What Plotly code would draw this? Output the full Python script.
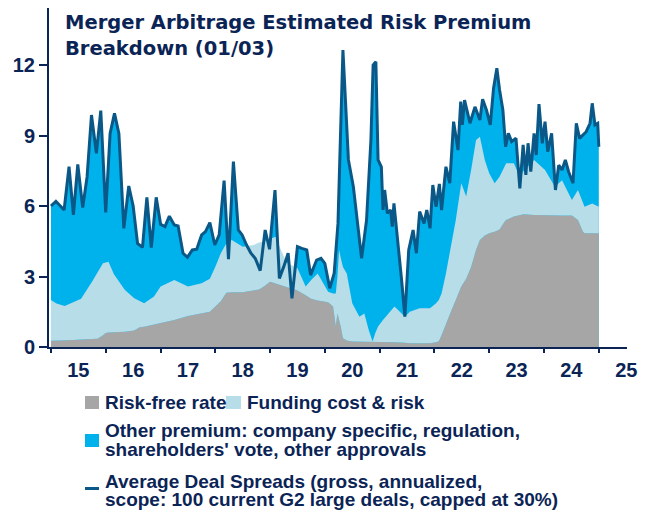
import numpy as np
import pandas as pd
import plotly.graph_objects as go

# ---------------- data (decimal years) ----------------
spread_t = [2015.00, 2015.09, 2015.24, 2015.33, 2015.41, 2015.49, 2015.58, 2015.66, 2015.74, 2015.83,
            2015.91, 2016.00, 2016.08, 2016.16, 2016.24, 2016.33, 2016.42, 2016.50, 2016.58, 2016.67,
            2016.75, 2016.83, 2016.92, 2017.00, 2017.08, 2017.16, 2017.25, 2017.32, 2017.41, 2017.49,
            2017.58, 2017.66, 2017.75, 2017.82, 2017.90, 2017.99, 2018.07, 2018.16, 2018.24, 2018.33,
            2018.42, 2018.49, 2018.57, 2018.65, 2018.73, 2018.82, 2018.91, 2018.99, 2019.09, 2019.17,
            2019.25, 2019.33, 2019.40, 2019.50, 2019.58, 2019.67, 2019.74, 2019.85, 2019.93, 2020.00,
            2020.09, 2020.17, 2020.24, 2020.33, 2020.43, 2020.52, 2020.67, 2020.76, 2020.84, 2020.88,
            2020.93, 2020.97, 2021.03, 2021.06, 2021.09, 2021.14, 2021.20, 2021.23, 2021.26, 2021.34,
            2021.40, 2021.46, 2021.53, 2021.61, 2021.67, 2021.73, 2021.81, 2021.86, 2021.92, 2021.97,
            2022.03, 2022.09, 2022.13, 2022.21, 2022.28, 2022.35, 2022.43, 2022.48, 2022.51, 2022.55,
            2022.65, 2022.74, 2022.83, 2022.88, 2022.95, 2023.02, 2023.08, 2023.14, 2023.19, 2023.25,
            2023.30, 2023.35, 2023.41, 2023.49, 2023.56, 2023.62, 2023.67, 2023.71, 2023.76, 2023.82,
            2023.86, 2023.91, 2023.97, 2024.02, 2024.07, 2024.14, 2024.21, 2024.27, 2024.33, 2024.39,
            2024.45, 2024.53, 2024.59, 2024.65, 2024.71, 2024.77, 2024.84, 2024.88, 2024.93, 2024.98,
            2025.00]
spread_v = [6.00, 6.20, 5.83, 7.67, 5.62, 7.77, 5.93, 7.25, 9.87, 8.24,
            10.06, 5.73, 9.09, 9.94, 9.09, 5.05, 6.85, 6.00, 4.41, 4.24,
            6.37, 4.23, 6.37, 5.22, 5.12, 5.57, 5.19, 5.15, 3.99, 3.82,
            4.13, 4.16, 4.77, 4.91, 5.29, 4.34, 4.77, 7.08, 3.74, 7.89,
            4.98, 4.77, 4.34, 3.99, 3.77, 3.25, 4.98, 4.16, 6.68, 2.92,
            3.42, 3.99, 2.07, 4.27, 4.20, 4.13, 3.06, 3.70, 3.77, 3.56,
            2.50, 3.13, 5.26, 12.64, 7.96, 6.82, 3.77, 5.40, 8.81, 12.00,
            12.14, 7.96, 7.67, 5.83, 6.68, 5.69, 5.83, 5.12, 6.11, 4.34,
            2.85, 1.29, 4.13, 4.98, 3.99, 5.76, 5.26, 5.83, 5.05, 6.89,
            5.97, 6.94, 5.83, 7.67, 6.97, 9.59, 8.38, 10.44, 9.45, 10.51,
            9.52, 10.22, 9.66, 10.54, 10.09, 9.45, 11.01, 11.86, 10.94, 10.09,
            8.52, 9.09, 8.74, 8.88, 6.75, 8.60, 7.32, 8.67, 7.46, 9.09,
            8.17, 10.34, 8.67, 9.59, 8.31, 9.09, 6.68, 7.74, 7.53, 7.96,
            7.46, 6.97, 9.52, 8.88, 9.02, 9.16, 9.52, 10.37, 9.45, 9.52,
            8.52]

area_t = [2015.00, 2015.10, 2015.25, 2015.40, 2015.55, 2015.75, 2015.85, 2015.95, 2016.00, 2016.05,
          2016.15, 2016.35, 2016.52, 2016.62, 2016.70, 2016.88, 2017.00, 2017.25, 2017.50, 2017.75,
          2017.90, 2018.00, 2018.10, 2018.20, 2018.30, 2018.50, 2018.70, 2018.80, 2018.90, 2019.00,
          2019.10, 2019.20, 2019.30, 2019.50, 2019.65, 2019.75, 2019.87, 2020.00, 2020.06, 2020.15,
          2020.20, 2020.23, 2020.26, 2020.29, 2020.33, 2020.40, 2020.50, 2020.63, 2020.72, 2020.80,
          2020.87, 2020.92, 2020.97, 2021.06, 2021.27, 2021.46, 2021.55, 2021.73, 2021.92, 2022.03,
          2022.08, 2022.13, 2022.21, 2022.30, 2022.39, 2022.49, 2022.58, 2022.67, 2022.76, 2022.83,
          2022.92, 2023.00, 2023.10, 2023.19, 2023.28, 2023.31, 2023.45, 2023.56, 2023.63, 2023.82,
          2024.02, 2024.20, 2024.33, 2024.51, 2024.62, 2024.71, 2024.74, 2024.88, 2025.00]
risk_free = [0.27, 0.27, 0.28, 0.30, 0.32, 0.32, 0.35, 0.50, 0.60, 0.62,
             0.62, 0.65, 0.70, 0.84, 0.86, 0.95, 1.00, 1.15, 1.32, 1.42,
             1.50, 1.72, 1.95, 2.31, 2.33, 2.33, 2.40, 2.45, 2.60, 2.78,
             2.70, 2.62, 2.55, 2.40, 2.20, 2.05, 1.98, 1.93, 1.90, 1.72,
             0.87, 1.43, 1.20, 0.87, 0.37, 0.28, 0.23, 0.23, 0.23, 0.23,
             0.23, 0.23, 0.23, 0.22, 0.20, 0.18, 0.16, 0.16, 0.16, 0.20,
             0.25, 0.50, 1.00, 1.50, 2.00, 2.57, 2.90, 3.40, 4.13, 4.55,
             4.75, 4.84, 4.90, 5.00, 5.33, 5.40, 5.55, 5.62, 5.65, 5.62,
             5.60, 5.60, 5.60, 5.60, 5.40, 4.91, 4.84, 4.84, 4.84]
funding = [1.73, 1.58, 1.46, 1.60, 1.73, 2.46, 2.85, 3.06, 3.00, 3.01,
           2.48, 1.78, 1.37, 1.11, 1.00, 1.20, 1.57, 1.70, 1.25, 1.29,
           1.40, 1.70, 2.04, 2.09, 2.22, 1.94, 1.94, 2.00, 1.90, 1.82,
           1.99, 1.51, 1.05, 0.95, 0.37, 0.80, 1.15, 0.67, 0.45, 0.56,
           1.41, 1.57, 2.93, 2.93, 3.03, 2.85, 1.63, 1.06, 1.20, 0.49,
           0.00, 0.37, 0.64, 0.93, 1.52, 1.11, 1.34, 1.49, 1.49, 1.66,
           1.75, 1.78, 2.13, 2.77, 3.40, 4.40, 3.50, 4.13, 4.68, 4.40,
           3.21, 2.55, 2.07, 2.25, 2.34, 2.42, 2.27, 1.63, 1.85, 2.34,
           1.93, 1.22, 1.50, 0.66, 1.28, 1.29, 1.13, 1.27, 1.13]

y_ticks = [0, 3, 6, 9, 12]

title_lines = ["Merger Arbitrage Estimated Risk Premium", "Breakdown (01/03)"]
legend_rf = "Risk-free rate"
legend_fund = "Funding cost &amp; risk"
legend_other = ["Other premium: company specific, regulation,", "shareholders' vote, other approvals"]
legend_spread = ["Average Deal Spreads (gross, annualized,", "scope: 100 current G2 large deals, capped at 30%)"]

# ---------------- styles ----------------
NAVY = "#0b2456"
LINE = "#0a5888"
CYAN = "#00b2ec"
LBLUE = "#b7dde8"
GREY = "#a6a6a6"
FONT = "Liberation Sans"


def to_dates(years):
    out = []
    for y in years:
        yr = int(np.floor(y))
        start = pd.Timestamp(year=yr, month=1, day=1)
        end = pd.Timestamp(year=yr + 1, month=1, day=1)
        out.append(start + (end - start) * (y - yr))
    return out


sx = to_dates(spread_t)
ax = to_dates(area_t)

fig = go.Figure()
fig.add_trace(go.Scatter(x=sx, y=spread_v, mode="lines", fill="tozeroy",
                         fillcolor=CYAN, line=dict(width=0, color=CYAN), hoverinfo="skip"))
fig.add_trace(go.Scatter(x=ax, y=risk_free, mode="lines", stackgroup="a",
                         fillcolor=GREY, line=dict(width=0, color=GREY), hoverinfo="skip"))
fig.add_trace(go.Scatter(x=ax, y=funding, mode="lines", stackgroup="a",
                         fillcolor=LBLUE, line=dict(width=0, color=LBLUE), hoverinfo="skip"))
fig.add_trace(go.Scatter(x=sx, y=spread_v, mode="lines",
                         line=dict(width=3, color=LINE), hoverinfo="skip"))

# page offset (body margin) and figure size
OFF = 8
W, H = 640, 504
# plot area in page pixels
L, R, T, B = 49 - OFF, 627 - OFF, 0, 347 - OFF
Y_TOP = (347 - OFF) / 23.5


def px(xp):
    return (xp - OFF - L) / (R - L)


def py(yp):
    return (B - (yp - OFF)) / (B - T)


x_range = to_dates([2014.964, 2025.515])

fig.update_layout(
    width=W, height=H,
    margin=dict(l=L, r=W - R, t=T, b=H - B),
    paper_bgcolor="white", plot_bgcolor="white",
    showlegend=False,
    xaxis=dict(type="date", range=x_range, dtick="M12", tick0="2015-01-01",
               ticklabelmode="period", tickformat="%y",
               ticks="outside", ticklen=4, tickwidth=1.5, tickcolor=NAVY,
               showline=True, linecolor=NAVY, linewidth=2,
               showgrid=False, zeroline=False, ticklabelstandoff=0,
               tickfont=dict(family=FONT, size=20, color=NAVY, weight="bold")),
    yaxis=dict(range=[0, Y_TOP], tickvals=y_ticks, ticks="outside", ticklen=8,
               tickwidth=1.5, tickcolor=NAVY,
               showline=True, linecolor=NAVY, linewidth=2,
               showgrid=False, zeroline=False,
               tickfont=dict(family=FONT, size=20, color=NAVY, weight="bold")),
)

anns = []
tfont = dict(family="DejaVu Sans", size=19.5, color=NAVY, weight="bold")
anns.append(dict(text="<b>" + title_lines[0] + "</b>", x=px(63), y=py(22), xref="paper", yref="paper",
                 xanchor="left", yanchor="middle", showarrow=False, font=tfont))
anns.append(dict(text="<b>" + title_lines[1] + "</b>", x=px(63), y=py(48.5), xref="paper", yref="paper",
                 xanchor="left", yanchor="middle", showarrow=False, font=tfont))

lfont = dict(family=FONT, size=19, color=NAVY, weight="bold")
leg_items = [
    (legend_rf, 103, 402),
    (legend_fund, 245, 402),
    (legend_other[0], 103, 430),
    (legend_other[1], 103, 449),
    (legend_spread[0], 103, 481),
    (legend_spread[1], 103, 499),
]
for txt, xx, yy in leg_items:
    anns.append(dict(text="<b>" + txt + "</b>", x=px(xx), y=py(yy), xref="paper", yref="paper",
                     xanchor="left", yanchor="middle", showarrow=False, font=lfont))
fig.update_layout(annotations=anns)

shapes = [
    dict(type="rect", xref="paper", yref="paper", x0=px(85), x1=px(99), y0=py(409), y1=py(396),
         fillcolor=GREY, line=dict(width=0)),
    dict(type="rect", xref="paper", yref="paper", x0=px(226), x1=px(241), y0=py(409), y1=py(396),
         fillcolor=LBLUE, line=dict(width=0)),
    dict(type="rect", xref="paper", yref="paper", x0=px(85), x1=px(99), y0=py(447), y1=py(434),
         fillcolor=CYAN, line=dict(width=0)),
    dict(type="rect", xref="paper", yref="paper", x0=px(85), x1=px(99), y0=py(490), y1=py(487),
         fillcolor=LINE, line=dict(width=0)),
]
fig.update_layout(shapes=shapes)

fig.write_html("out.html")
